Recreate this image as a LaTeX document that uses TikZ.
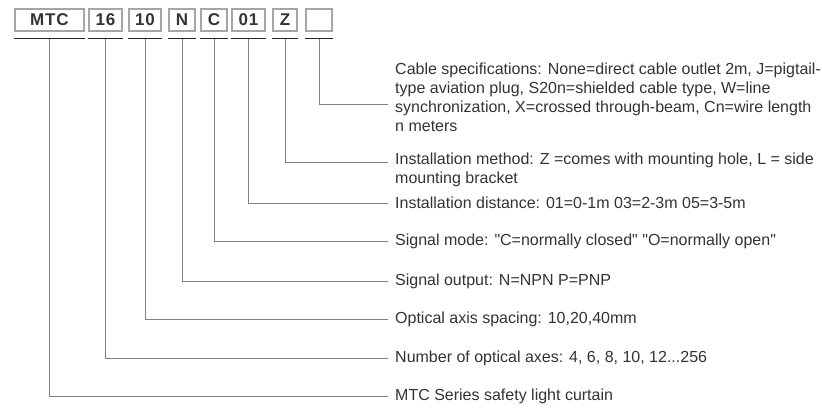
\documentclass[tikz,border=0pt]{standalone}
\usepackage{fontspec}
\setmainfont{Liberation Sans}
\usetikzlibrary{positioning}

\definecolor{txtgray}{RGB}{51,51,51}
\definecolor{linegray}{RGB}{128,128,128}
\definecolor{boxgray}{RGB}{165,165,165}

\begin{document}
\begin{tikzpicture}[x=1pt, y=-1pt,
    codebox/.style={draw=boxgray, line width=1.2pt, minimum height=22pt, inner sep=0pt,
        text=txtgray, font=\fontsize{17}{19}\selectfont\bfseries\addfontfeatures{LetterSpace=5}},
    underline/.style={draw=black!85, line width=1.3pt},
    lead/.style={draw=linegray, line width=0.9pt},
    desc/.style={inner xsep=7pt, inner ysep=0pt, text=txtgray, align=left,
        font=\fontsize{16}{19}\selectfont}]

    \useasboundingbox (0,0) rectangle (822,407);

    % Cac o ma san pham
    \node[codebox, minimum width=69pt] (mtc) at (49.5,20) {MTC};
    \node[codebox, minimum width=33pt] (axes) at (105.5,20) {16};
    \node[codebox, minimum width=32pt] (pitch) at (145,20) {10};
    \node[codebox, minimum width=26pt] (out) at (182,20) {N};
    \node[codebox, minimum width=26pt] (mode) at (214,20) {C};
    \node[codebox, minimum width=33pt] (dist) at (248.5,20) {01};
    \node[codebox, minimum width=24pt] (mount) at (285,20) {Z};
    \node[codebox, minimum width=26pt] (cable) at (319,20) {};

    % Cac dong giai thich (base = dong cuoi)
    \node[desc, anchor=base west] (tcable) at (388,131.5)
        {Cable specifications: None=direct cable outlet 2m, J=pigtail-\\
         type aviation plug, S20n=shielded cable type, W=line\\
         synchronization, X=crossed through-beam, Cn=wire length\\
         n meters};
    \node[desc, anchor=base west] (tmount) at (388,183.5)
        {Installation method: Z =comes with mounting hole, L = side\\
         mounting bracket};
    \node[desc, anchor=west] (tdist) at (388,203) {Installation distance: 01=0-1m 03=2-3m 05=3-5m};
    \node[desc, anchor=west] (tmode) at (388,241)
        {Signal mode: \textquotedbl C=normally closed\textquotedbl\ \textquotedbl O=normally open\textquotedbl};
    \node[desc, anchor=west] (tout) at (388,281) {Signal output: N=NPN P=PNP};
    \node[desc, anchor=west] (tpitch) at (388,319) {Optical axis spacing: 10,20,40mm};
    \node[desc, anchor=west] (taxes) at (388,358) {Number of optical axes: 4, 6, 8, 10, 12...256};
    \node[desc, anchor=west] (tmtc) at (388,396) {MTC Series safety light curtain};

    % Gach chan va duong dan
    \foreach \b/\t/\s in {mtc/tmtc/0, axes/taxes/0, pitch/tpitch/0, out/tout/0,
                          mode/tmode/0, dist/tdist/0, mount/tmount/7, cable/tcable/-7.1} {
        \draw[underline] ([yshift=-7pt]\b.south west) -- ([yshift=-7pt]\b.south east);
        \draw[lead] ([yshift=-7pt]\b.south) |- ([yshift=\s pt]\t.west);
    }
\end{tikzpicture}
\end{document}
